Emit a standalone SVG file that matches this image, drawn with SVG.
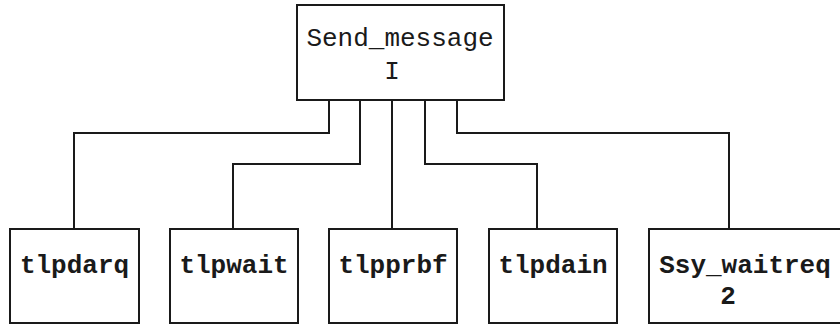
<svg xmlns="http://www.w3.org/2000/svg" width="840" height="325" viewBox="0 0 840 325">
<style>
.box{fill:#fff;stroke:#1a1a1a;stroke-width:2}
.conn{fill:none;stroke:#1a1a1a;stroke-width:2}
.t{font-family:"Liberation Mono","Courier New",monospace;font-size:26px;fill:#1a1a1a;text-anchor:middle}
.b{font-weight:bold}
</style>
<rect width="840" height="325" fill="#fff"/>
<g id="connectors">
<polyline class="conn" points="329,100 329,133 74,133 74,229"/>
<polyline class="conn" points="360,100 360,164 233,164 233,229"/>
<polyline class="conn" points="392,100 392,229"/>
<polyline class="conn" points="425,100 425,164 537,164 537,229"/>
<polyline class="conn" points="457,100 457,133 729,133 729,229"/>
</g>
<g id="send_message">
<rect class="box" x="297" y="5" width="207" height="95"/>
<text class="t" x="400" y="46">Send_message</text>
<text class="t" x="392" y="79">I</text>
</g>
<g id="tlpdarq">
<rect class="box" x="10" y="229" width="129" height="94"/>
<text class="t b" x="74.5" y="273">tlpdarq</text>
</g>
<g id="tlpwait">
<rect class="box" x="170" y="229" width="128" height="94"/>
<text class="t b" x="234" y="273">tlpwait</text>
</g>
<g id="tlpprbf">
<rect class="box" x="329" y="229" width="128" height="94"/>
<text class="t b" x="393" y="273">tlpprbf</text>
</g>
<g id="tlpdain">
<rect class="box" x="489" y="229" width="128" height="94"/>
<text class="t b" x="553" y="273">tlpdain</text>
</g>
<g id="ssy_waitreq">
<rect class="box" x="649" y="229" width="200" height="94"/>
<text class="t b" x="745" y="273">Ssy_waitreq</text>
<text class="t b" x="728" y="304">2</text>
</g>
</svg>
